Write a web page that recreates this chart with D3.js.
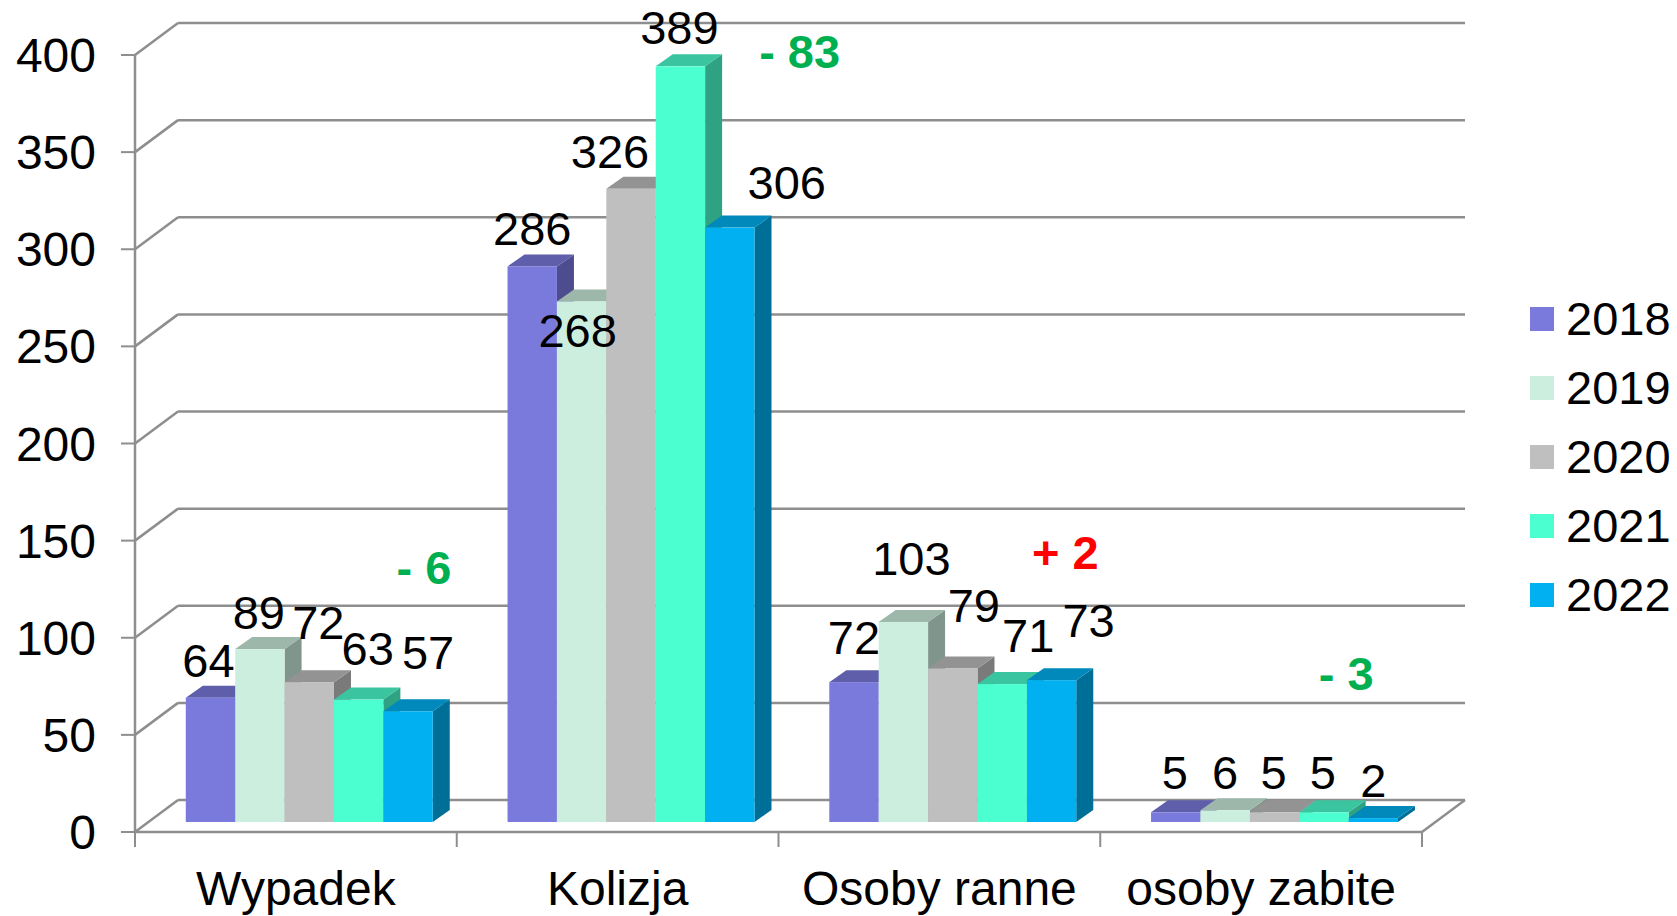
<!DOCTYPE html>
<meta charset="utf-8">
<head>
<style>
body { margin: 0; background: #fff; }
svg text { font-family: "Liberation Sans", Arial, sans-serif; }
</style>
</head>
<body>
<div id="chart"></div>
<script src="https://d3js.org/d3.v7.min.js"></script>
<script>

// data
const categories = ["Wypadek", "Kolizja", "Osoby ranne", "osoby zabite"];
const years = ["2018", "2019", "2020", "2021", "2022"];
const v2018 = [64, 286, 72, 5];
const v2019 = [89, 268, 103, 6];
const v2020 = [72, 326, 79, 5];
const v2021 = [63, 389, 71, 5];
const v2022 = [57, 306, 73, 2];
const yTicks = [0, 50, 100, 150, 200, 250, 300, 350, 400];

const series = [v2018, v2019, v2020, v2021, v2022];

// face colours: front, top, side
const frontCol = ["#7a7adc", "#cceedf", "#bfbfbf", "#4bffd0", "#00b0f0"];
const topCol   = ["#5e5eab", "#9db8ab", "#939393", "#3ac4a0", "#0089ba"];
const sideCol  = ["#4c4c8e", "#80958b", "#7a7a7a", "#2fa283", "#006f98"];

// hand nudges of the value labels (as moved in the original), [dx, dy] per year/category
const labelNudge = [
  [[-2, 1], [0, 1], [0, -6], [-1, -1]],
  [[-1, 2], [-4, 68], [8, -25], [0, 1]],
  [[9, -21], [-21, 1], [21, -25], [-1, -1]],
  [[9, -13], [-1, 0], [26, -10], [-1, -1]],
  [[20, -20], [57, -7], [37, -21], [0, 1]]
];
// placement of the 2022 vs 2021 difference notes
const noteDx = [128, 182, 126, 85];
const noteY = [584, 68, 569, 690];

const W = 1677, H = 916;
const svg = d3.select("#chart").append("svg")
  .attr("width", W).attr("height", H);

const x = d3.scaleBand().domain(categories).range([135, 1422]);
const xs = d3.scaleBand().domain(years).range([0, x.bandwidth()]).paddingOuter(0.757);
const y = d3.scaleLinear().domain([0, 400]).range([832, 55]);

const back = {dx: 43, dy: -32};     // back wall offset
const plane = {dx: 13.4, dy: -10};  // front plane of the bars
const depth = {dx: 17, dy: -12};    // bar depth

const grid = "#8e8e8e";
const g = svg.append("g");

// walls / gridlines
yTicks.forEach(t => {
  const yy = y(t);
  g.append("line").attr("x1", 121).attr("x2", 135).attr("y1", yy).attr("y2", yy)
    .attr("stroke", grid).attr("stroke-width", 2);
  g.append("line").attr("x1", 135).attr("y1", yy).attr("x2", 135 + back.dx).attr("y2", yy + back.dy)
    .attr("stroke", grid).attr("stroke-width", 2.5);
  g.append("line").attr("x1", 135 + back.dx).attr("x2", 1422 + back.dx)
    .attr("y1", yy + back.dy).attr("y2", yy + back.dy)
    .attr("stroke", grid).attr("stroke-width", 2.5);
});
// vertical axis, floor
g.append("line").attr("x1", 135).attr("x2", 135).attr("y1", y(0)).attr("y2", y(400))
  .attr("stroke", grid).attr("stroke-width", 2.5);
g.append("line").attr("x1", 135).attr("x2", 1422).attr("y1", y(0)).attr("y2", y(0))
  .attr("stroke", grid).attr("stroke-width", 2.5);
g.append("line").attr("x1", 1422).attr("y1", y(0)).attr("x2", 1422 + back.dx).attr("y2", y(0) + back.dy)
  .attr("stroke", grid).attr("stroke-width", 2.5);
// category ticks
const catTicks = categories.map(c => x(c)).concat([x.range()[1]]);
catTicks.forEach(cx => {
  g.append("line").attr("x1", cx).attr("x2", cx).attr("y1", y(0)).attr("y2", y(0) + 15)
    .attr("stroke", grid).attr("stroke-width", 2);
});

// y tick labels
svg.append("g").selectAll("text").data(yTicks).join("text")
  .attr("x", 96).attr("y", d => y(d) + 17)
  .attr("text-anchor", "end").attr("font-size", 48).attr("fill", "#000")
  .text(d => d);

// category labels
svg.append("g").selectAll("text").data(categories).join("text")
  .attr("x", d => x(d) + x.bandwidth() / 2).attr("y", 905)
  .attr("text-anchor", "middle").attr("font-size", 48).attr("fill", "#000")
  .text(d => d);

// bars
const bars = svg.append("g");
const base = y(0) + plane.dy;
categories.forEach((c, ci) => {
  years.forEach((yr, si) => {
    const v = series[si][ci];
    const x0 = x(c) + xs(yr) + plane.dx;
    const x1 = x0 + xs.bandwidth();
    const top = y(v) + plane.dy;
    const dx = depth.dx, dy = depth.dy;
    bars.append("path")
      .attr("d", `M${x1},${top}L${x1 + dx},${top + dy}L${x1 + dx},${base + dy}L${x1},${base}Z`)
      .attr("fill", sideCol[si]);
    bars.append("path")
      .attr("d", `M${x0},${top}L${x0 + dx},${top + dy}L${x1 + dx},${top + dy}L${x1},${top}Z`)
      .attr("fill", topCol[si]);
    bars.append("rect")
      .attr("x", x0).attr("y", top).attr("width", x1 - x0).attr("height", base - top)
      .attr("fill", frontCol[si]);
  });
});

// value labels
const labels = svg.append("g");
categories.forEach((c, ci) => {
  years.forEach((yr, si) => {
    const v = series[si][ci];
    const n = labelNudge[si][ci];
    labels.append("text")
      .attr("x", x(c) + xs(yr) + plane.dx + xs.bandwidth() / 2 + n[0])
      .attr("y", y(v) + plane.dy - 22 + n[1])
      .attr("text-anchor", "middle").attr("font-size", 47).attr("fill", "#000")
      .text(v);
  });
});

// difference notes 2022 vs 2021
categories.forEach((c, ci) => {
  const d = v2022[ci] - v2021[ci];
  svg.append("text")
    .attr("x", x(c) + x.bandwidth() / 2 + noteDx[ci])
    .attr("y", noteY[ci])
    .attr("text-anchor", "middle").attr("font-size", 47).attr("font-weight", "bold")
    .attr("fill", d < 0 ? "#00b050" : "#ff0000")
    .text((d < 0 ? "- " : "+ ") + Math.abs(d));
});

// legend
const legend = svg.append("g").selectAll("g").data(years).join("g")
  .attr("transform", (d, i) => `translate(1530,${319 + 69 * i})`);
legend.append("rect").attr("x", 0).attr("y", -12).attr("width", 24).attr("height", 24)
  .attr("fill", (d, i) => frontCol[i]);
legend.append("text").attr("x", 36).attr("y", 16)
  .attr("font-size", 47).attr("fill", "#000").text(d => d);

</script>
</body>
</html>
